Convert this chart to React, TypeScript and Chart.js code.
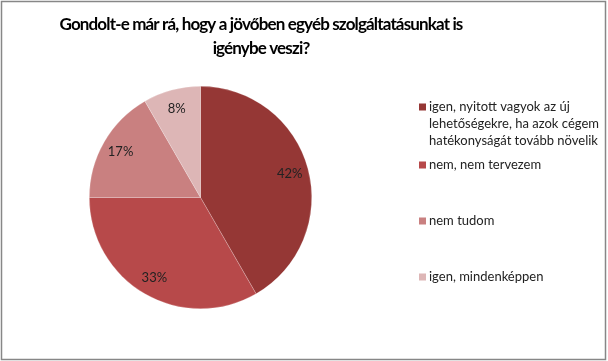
import React, { useEffect, useRef } from "react";
import { Chart, registerables } from "chart.js";

Chart.register(...registerables);

const titleLines = [
  "Gondolt-e már rá, hogy a jövőben egyéb szolgáltatásunkat is",
  "igénybe veszi?",
];
const categories = [
  ["igen, nyitott vagyok az új", "lehetőségekre, ha azok cégem", "hatékonyságát tovább növelik"],
  ["nem, nem tervezem"],
  ["nem tudom"],
  ["igen, mindenképpen"],
];
const values = [5, 4, 2, 1];
const percentLabels = ["42%", "33%", "17%", "8%"];
const colors = ["#953735", "#B7494A", "#C98080", "#DDB6B6"];

const FONT = "Lato, 'Open Sans', sans-serif";

const decorPlugin = {
  id: "decor",
  afterDraw(chart: any) {
    const ctx = chart.ctx;
    ctx.save();
    // border
    ctx.strokeStyle = "#878787";
    ctx.lineWidth = 1.5;
    ctx.strokeRect(1.5, 1.5, 604, 358);

    // title
    ctx.fillStyle = "#000";
    ctx.font = `bold 17px ${FONT}`;
    ctx.textAlign = "center";
    ctx.textBaseline = "middle";
    try { (ctx as any).letterSpacing = "-0.85px"; } catch (e) {}
    titleLines.forEach((line, i) => ctx.fillText(line, 261, 25 + i * 24));
    try { (ctx as any).letterSpacing = "0px"; } catch (e) {}

    // percentage labels
    const meta = chart.getDatasetMeta(0);
    ctx.font = `13px ${FONT}`;
    ctx.fillStyle = "#222";
    meta.data.forEach((arc: any, i: number) => {
      const mid = (arc.startAngle + arc.endAngle) / 2;
      const r = arc.outerRadius * 0.83;
      ctx.fillText(percentLabels[i], arc.x + Math.cos(mid) * r, arc.y + Math.sin(mid) * r);
    });

    // legend
    const itemY = [107, 165, 221, 277];
    ctx.textAlign = "left";
    ctx.font = `13px ${FONT}`;
    categories.forEach((lines, i) => {
      ctx.fillStyle = colors[i];
      ctx.fillRect(419, itemY[i] - 3.5, 7, 7);
      ctx.fillStyle = "#222";
      lines.forEach((t, j) => ctx.fillText(t, 429, itemY[i] + j * 17));
    });
    ctx.restore();
  },
};

export default function App() {
  const ref = useRef<HTMLCanvasElement>(null);
  useEffect(() => {
    if (!ref.current) return;
    const chart = new Chart(ref.current, {
      type: "pie",
      data: {
        labels: categories.map((c) => c.join(" ")),
        datasets: [
          {
            data: values,
            backgroundColor: colors,
            borderColor: "rgba(255,255,255,0.35)",
            borderWidth: 0.6,
          },
        ],
      },
      options: {
        responsive: false,
        animation: false,
        layout: { padding: { left: 89, top: 86, right: 296, bottom: 52 } },
        plugins: {
          legend: { display: false },
          title: { display: false },
          tooltip: { enabled: false },
        },
      },
      plugins: [decorPlugin],
    });
    return () => chart.destroy();
  }, []);
  return (
    <div style={{ position: "fixed", left: 0, top: 0, width: 608, height: 361, background: "#fff" }}>
      <canvas ref={ref} width={608} height={361} />
    </div>
  );
}
